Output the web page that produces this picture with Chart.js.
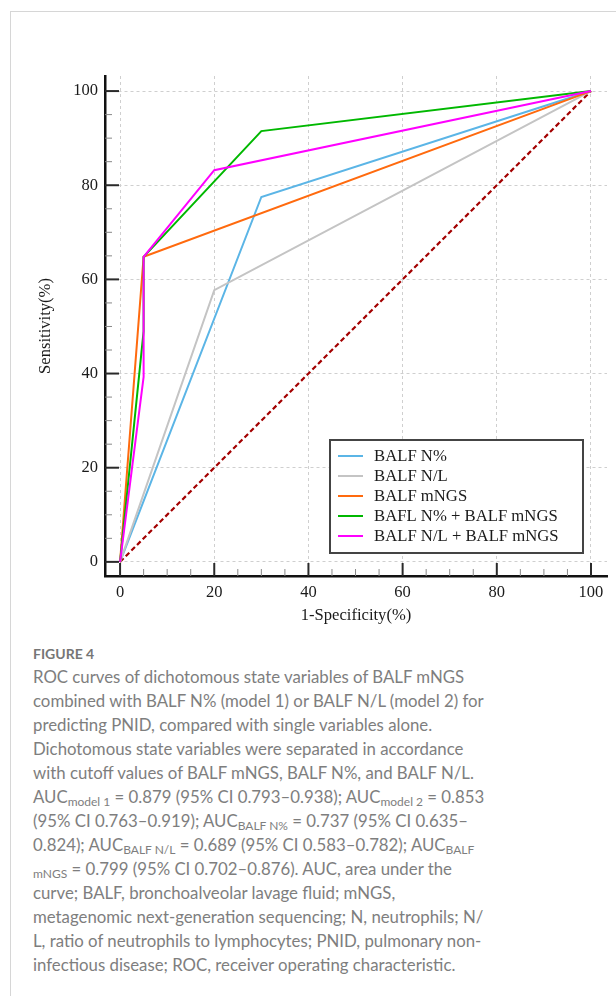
<!DOCTYPE html>
<html>
<head>
<meta charset="utf-8">
<script src="https://cdn.jsdelivr.net/npm/chart.js@4/dist/chart.umd.min.js"></script>
<style>
  html,body{margin:0;padding:0;background:#fff;}
  body{width:616px;height:996px;position:relative;overflow:hidden;}
  #card{position:absolute;left:10px;top:11px;right:-5px;bottom:-5px;border-top:1px solid #d6d6d6;border-left:1px solid #d6d6d6;}
  #chart{position:absolute;left:0;top:0;}
  #caption{position:absolute;left:33px;top:643px;width:570px;color:#7e7e7e;font-family:Lato,"Noto Sans",sans-serif;}
  #caption .fig{font-size:14px;line-height:22px;font-weight:bold;color:#767676;}
  #caption .txt{font-size:16.8px;line-height:24px;white-space:nowrap;}
  #caption sub{font-size:12px;vertical-align:-3px;line-height:0;}
</style>
</head>
<body>
<div id="card"></div>
<canvas id="chart" width="616" height="640"></canvas>
<div id="caption">
  <div class="fig">FIGURE 4</div>
  <div class="txt">
ROC curves of dichotomous state variables of BALF mNGS<br>
combined with BALF N% (model 1) or BALF N/L (model 2) for<br>
predicting PNID, compared with single variables alone.<br>
Dichotomous state variables were separated in accordance<br>
with cutoff values of BALF mNGS, BALF N%, and BALF N/L.<br>
AUC<sub>model 1</sub> = 0.879 (95% CI 0.793–0.938); AUC<sub>model 2</sub> = 0.853<br>
(95% CI 0.763–0.919); AUC<sub>BALF N%</sub> = 0.737 (95% CI 0.635–<br>
0.824); AUC<sub>BALF N/L</sub> = 0.689 (95% CI 0.583–0.782); AUC<sub>BALF</sub><br>
<sub>mNGS</sub> = 0.799 (95% CI 0.702–0.876). AUC, area under the<br>
curve; BALF, bronchoalveolar lavage fluid; mNGS,<br>
metagenomic next-generation sequencing; N, neutrophils; N/<br>
L, ratio of neutrophils to lymphocytes; PNID, pulmonary non-<br>
infectious disease; ROC, receiver operating characteristic.
  </div>
</div>
<script>
// series: 1-specificity (x) and sensitivity (y), in %
const seriesLabels=['BALF N%','BALF N/L','BALF mNGS','BAFL N% + BALF mNGS','BALF N/L + BALF mNGS'];
const seriesColors=['#5BB5E6','#C4C4C4','#FF6A0E','#00B800','#FF00FF'];
const fprNPct=[0,30,100],        tprNPct=[0,77.5,100];
const fprNL=[0,20,100],          tprNL=[0,57.7,100];
const fprMngs=[0,5,100],         tprMngs=[0,64.8,100];
const fprModel1=[0,5,5,30,100],  tprModel1=[0,49,64.8,91.5,100];
const fprModel2=[0,5,5,20,100],  tprModel2=[0,39.3,64.8,83.2,100];
const refX=[0,100], refY=[0,100];
const tickValues=[0,5,10,15,20,25,30,35,40,45,50,55,60,65,70,75,80,85,90,95,100];

const xs=[fprNPct,fprNL,fprMngs,fprModel1,fprModel2];
const ys=[tprNPct,tprNL,tprMngs,tprModel1,tprModel2];
const pts=(a,b)=>a.map((v,i)=>({x:v,y:b[i]}));

let datasets=seriesLabels.map((l,i)=>({
  label:l, data:pts(xs[i],ys[i]), borderColor:seriesColors[i], borderWidth:2,
  pointRadius:0, tension:0, fill:false, order:10-i
}));
datasets.push({label:'ref', data:pts(refX,refY), borderColor:'#A30000', borderWidth:2.2,
  borderDash:[5,3], pointRadius:0, fill:false, order:20});

const serif='"Liberation Serif","Times New Roman",serif';

// inward tick marks + framed legend
const axisDecor={
  id:'axisDecor',
  afterDraw(chart){
    const {ctx,chartArea:a,scales:{x,y}}=chart;
    ctx.save();
    const mark=(major)=>{ctx.lineWidth=major?2:1;ctx.strokeStyle=major?'#2a2a2a':'#888';};
    x.ticks.forEach(t=>{
      const major=t.value%20===0, p=x.getPixelForValue(t.value);
      mark(major); ctx.beginPath(); ctx.moveTo(p,a.bottom); ctx.lineTo(p,a.bottom-(major?13:7)); ctx.stroke();
    });
    y.ticks.forEach(t=>{
      const major=t.value%20===0, p=y.getPixelForValue(t.value);
      mark(major); ctx.beginPath(); ctx.moveTo(a.left,p); ctx.lineTo(a.left+(major?14:7),p); ctx.stroke();
    });
    // legend box
    const bx=330,by=440,bw=253,bh=113;
    ctx.fillStyle='#fff'; ctx.fillRect(bx,by,bw,bh);
    ctx.lineWidth=2; ctx.strokeStyle='#444'; ctx.strokeRect(bx,by,bw,bh);
    ctx.font='16.7px '+serif; ctx.textBaseline='middle'; ctx.textAlign='left';
    chart.data.datasets.slice(0,seriesLabels.length).forEach((d,i)=>{
      const ry=456+i*20;
      ctx.strokeStyle=d.borderColor; ctx.lineWidth=2;
      ctx.beginPath(); ctx.moveTo(338,ry); ctx.lineTo(363,ry); ctx.stroke();
      ctx.fillStyle='#1a1a1a'; ctx.fillText(d.label,374,ry+1);
    });
    ctx.restore();
  }
};

const axisCommon=(title)=>({
  type:'linear', min:-3.2, max:103.4,
  afterBuildTicks:s=>{s.ticks=tickValues.map(v=>({value:v}));},
  ticks:{callback:v=>v%20===0?String(v):'', color:'#1a1a1a', font:{family:serif,size:16.5}, padding:7, autoSkip:false, maxRotation:0},
  grid:{color:c=>c.tick&&c.tick.value%20===0?'#cfcfcf':'rgba(0,0,0,0)', lineWidth:1, drawTicks:false},
  border:{display:true, color:'#111', width:2.5, dash:[3,3]},
  title:{display:true, text:title, color:'#1a1a1a', font:{family:serif,size:16.6}}
});

const xAxis=axisCommon('1-Specificity(%)');
xAxis.afterFit=s=>{s.height=64;};
xAxis.title.padding={top:0,bottom:14};
const yAxis=axisCommon('Sensitivity(%)');
yAxis.min=-3; yAxis.max=103.2;
yAxis.afterFit=s=>{s.width=95;};
yAxis.title.padding={top:26,bottom:0};

new Chart(document.getElementById('chart').getContext('2d'),{
  type:'line',
  data:{datasets},
  options:{
    responsive:false, animation:false,
    layout:{padding:{left:10,right:9,top:76,bottom:0}},
    plugins:{legend:{display:false},tooltip:{enabled:false}},
    scales:{x:xAxis,y:yAxis}
  },
  plugins:[axisDecor]
});
</script>
</body>
</html>
